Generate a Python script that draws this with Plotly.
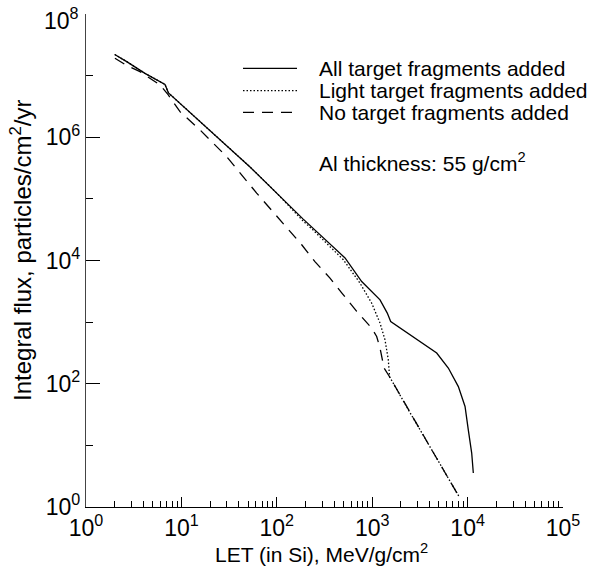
import plotly.graph_objects as go

# ---- data ----
all_let = [2.0, 2.67, 4.15, 6.73, 7.32, 52.4, 188, 519, 776, 1208, 1439, 1563,
           4745, 6280, 8000, 9400, 10170, 11040, 11480]
all_flux = [2.2e7, 1.69e7, 1.09e7, 7.2e6, 5.24e6, 3.3e5, 4.74e4, 1.1e4, 4.56e3,
            2.3e3, 1.4e3, 1.02e3, 315, 180, 90, 42.8, 17.9, 7.5, 3.56]

light_let = [2.0, 2.67, 4.15, 6.73, 7.32, 52.4, 100, 188, 239, 498, 745, 988,
             1208, 1362, 1475, 1520, 2490, 4370, 6040, 8190]
light_flux = [2.2e7, 1.69e7, 1.09e7, 7.2e6, 5.24e6, 3.3e5, 1.24e5, 4.4e4, 3.14e4,
              1.03e4, 4.3e3, 2.03e3, 964, 517, 245, 130, 34, 7.66, 3.25, 1.45]

no_let = [2.01, 2.67, 3.68, 5.97, 7.29, 9.67, 15.7, 29.8, 61.5, 112.5, 182.5,
          251, 361, 479, 688, 988, 1114, 1208, 1288, 1330, 1520, 2490, 4370,
          6040, 8190]
no_flux = [1.91e7, 1.46e7, 1.16e7, 7.06e6, 4.86e6, 2.6e6, 1.31e6, 4.85e5,
           1.24e5, 4.28e4, 1.8e4, 9.6e3, 5.17e3, 2.99e3, 1.49e3, 800, 585, 379,
           245, 180, 130, 34, 7.66, 3.25, 1.45]

series_names = ["All target fragments added", "Light target fragments added",
                "No target fragments added"]
note_text = "Al thickness: 55 g/cm<sup>2</sup>"
x_title = "LET (in Si), MeV/g/cm<sup>2</sup>"
y_title = "Integral flux, particles/cm<sup>2</sup>/yr"

x_major = [10 ** k for k in range(0, 6)]
x_major_text = ["10<sup>%d</sup>" % k for k in range(0, 6)]
x_minor = [m * 10 ** k for k in range(0, 5) for m in range(2, 10)]
y_major = [10 ** k for k in range(0, 9, 2)]
y_major_text = ["10<sup>%d</sup>" % k for k in range(0, 9, 2)]
y_minor = [10 ** k for k in range(1, 9, 2)]

# ---- layout helpers ----
W, H = 592, 571
ML, MR, MT, MB = 86, 29, 14, 64
FONT = "Liberation Sans, Arial, Helvetica, sans-serif"


def pxx(x):
    return (x - ML) / (W - ML - MR)


def pxy(y):
    return (H - MB - y) / (H - MT - MB)


styles = [dict(color="black", width=1.3),
          dict(color="black", width=1.3, dash="1.5px,2px"),
          dict(color="black", width=1.3, dash="11px,8px")]

fig = go.Figure()
for xs, ys, st, nm in [(all_let, all_flux, styles[0], series_names[0]),
                       (light_let, light_flux, styles[1], series_names[1]),
                       (no_let, no_flux, styles[2], series_names[2])]:
    fig.add_trace(go.Scatter(x=xs, y=ys, mode="lines", line=st, name=nm,
                             showlegend=False))

# manual legend
shapes = []
annotations = []
rows_y = [68.3, 90.7, 112.3]
for i, (ry, st, nm) in enumerate(zip(rows_y, styles, series_names)):
    shapes.append(dict(type="line", xref="paper", yref="paper",
                       x0=pxx(243), x1=pxx(297), y0=pxy(ry), y1=pxy(ry),
                       line=st))
    annotations.append(dict(xref="paper", yref="paper", x=pxx(317), y=pxy(ry),
                            xanchor="left", yanchor="middle", showarrow=False,
                            text=nm, font=dict(size=21, color="black", family=FONT)))

annotations.append(dict(xref="paper", yref="paper", x=pxx(317), y=pxy(162),
                        xanchor="left", yanchor="middle", showarrow=False,
                        text=note_text, font=dict(size=21, color="black", family=FONT)))
annotations.append(dict(xref="paper", yref="paper", x=pxx(321), y=pxy(553),
                        xanchor="center", yanchor="middle", showarrow=False,
                        text=x_title, font=dict(size=21, color="black", family=FONT)))
annotations.append(dict(xref="paper", yref="paper", x=pxx(21), y=pxy(251),
                        xanchor="center", yanchor="middle", showarrow=False,
                        textangle=-90,
                        text=y_title, font=dict(size=24, color="black", family=FONT)))

# top y tick label (10^8) sits slightly below its tick so it stays on the page
top_label = y_major_text[-1]
y_major_text = y_major_text[:-1] + [""]
annotations.append(dict(xref="paper", yref="paper", x=pxx(81), y=pxy(19),
                        xanchor="right", yanchor="middle", showarrow=False,
                        text=top_label, font=dict(size=23, color="black", family=FONT)))

fig.update_layout(
    width=W, height=H,
    margin=dict(l=ML, r=MR, t=MT, b=MB, pad=0, autoexpand=False),
    paper_bgcolor="white", plot_bgcolor="white",
    font=dict(family=FONT, size=22, color="black"),
    shapes=shapes, annotations=annotations,
    showlegend=False,
)
fig.update_xaxes(type="log", range=[0, 5], showgrid=False, zeroline=False,
                 automargin=False,
                 showline=True, linecolor="black", linewidth=1.3,
                 ticks="inside", ticklen=10, tickwidth=1.3, tickcolor="black",
                 tickvals=x_major, ticktext=x_major_text,
                 ticklabeloverflow="allow",
                 tickfont=dict(size=23, family=FONT, color="black"),
                 minor=dict(tickvals=x_minor, ticks="inside", ticklen=6,
                            tickwidth=1.3, tickcolor="black", showgrid=False))
fig.update_yaxes(type="log", range=[0, 8], showgrid=False, zeroline=False,
                 automargin=False,
                 showline=True, linecolor="#444", linewidth=1.3,
                 ticks="inside", ticklen=14, tickwidth=1.3, tickcolor="black",
                 tickvals=y_major, ticktext=y_major_text,
                 ticklabeloverflow="allow",
                 tickfont=dict(size=23, family=FONT, color="black"),
                 minor=dict(tickvals=y_minor, ticks="inside", ticklen=7,
                            tickwidth=1.3, tickcolor="black", showgrid=False))

fig.write_html("out.html")
